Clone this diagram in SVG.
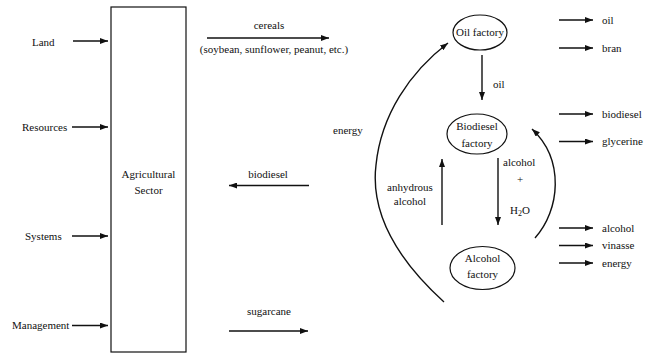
<svg xmlns="http://www.w3.org/2000/svg" width="658" height="354" viewBox="0 0 658 354">
<defs>
<marker id="ah" markerUnits="userSpaceOnUse" markerWidth="8" markerHeight="6" refX="8" refY="3" orient="auto">
<path d="M0,0 L8,3 L0,6 z" fill="#111"/>
</marker>
<style>
text{font-family:'Liberation Serif','Times New Roman','DejaVu Serif',serif;font-size:11px;fill:#111}
.m{text-anchor:middle}
.ar{stroke:#111;stroke-width:1.4;fill:none;marker-end:url(#ah)}
.nd{stroke:#111;stroke-width:1.2;fill:#fff}
</style>
</defs>
<rect width="658" height="354" fill="#fff"/>
<g font-family="Liberation Serif, Times New Roman, serif">
<g id="agricultural-sector">
<rect class="nd" x="111" y="7" width="75" height="345"/>
<text class="m" x="148.5" y="178">Agricultural</text>
<text class="m" x="148.5" y="194">Sector</text>
</g>
<g id="oil-factory">
<ellipse class="nd" cx="480" cy="32.5" rx="27" ry="17.5"/>
<text class="m" x="480" y="35.5">Oil factory</text>
</g>
<g id="biodiesel-factory">
<ellipse class="nd" cx="477" cy="134" rx="30" ry="20"/>
<text class="m" x="477" y="130">Biodiesel</text>
<text class="m" x="477" y="147">factory</text>
</g>
<g id="alcohol-factory">
<ellipse class="nd" cx="482.5" cy="268" rx="32.5" ry="21.5"/>
<text class="m" x="482.5" y="262">Alcohol</text>
<text class="m" x="482.5" y="278">factory</text>
</g>
<g id="connectors">
<line class="ar" x1="73" y1="41" x2="108" y2="41"/>
<line class="ar" x1="72" y1="127" x2="108" y2="127"/>
<line class="ar" x1="72" y1="236" x2="108" y2="236"/>
<line class="ar" x1="72" y1="325.5" x2="108" y2="325.5"/>
<line class="ar" x1="207" y1="38" x2="329" y2="38"/>
<line class="ar" x1="309" y1="185.5" x2="229" y2="185.5"/>
<line class="ar" x1="229" y1="331" x2="308" y2="331"/>
<line class="ar" x1="482" y1="55" x2="482" y2="100"/>
<line class="ar" x1="498" y1="158" x2="498" y2="225"/>
<line class="ar" x1="442" y1="225" x2="442" y2="159"/>
<path class="ar" d="M444,302 C400,262 370,215 376,165 C381,115 410,72 448,43"/>
<path class="ar" d="M535,238 C560,210 565,160 532,129"/>
<line class="ar" x1="559" y1="20" x2="593" y2="20"/>
<line class="ar" x1="559" y1="48" x2="593" y2="48"/>
<line class="ar" x1="559" y1="114" x2="593" y2="114"/>
<line class="ar" x1="559" y1="141.5" x2="593" y2="141.5"/>
<line class="ar" x1="559" y1="228" x2="593" y2="228"/>
<line class="ar" x1="559" y1="245.5" x2="593" y2="245.5"/>
<line class="ar" x1="559" y1="263" x2="593" y2="263"/>
</g>
<g id="labels">
<text x="32" y="46">Land</text>
<text x="22" y="131">Resources</text>
<text x="25" y="240">Systems</text>
<text x="12" y="329">Management</text>
<text class="m" x="269" y="29">cereals</text>
<text class="m" x="274" y="53" font-size="12">(soybean, sunflower, peanut, etc.)</text>
<text class="m" x="268" y="178">biodiesel</text>
<text class="m" x="269" y="315">sugarcane</text>
<text x="333" y="134">energy</text>
<text x="493" y="88">oil</text>
<text x="503" y="166">alcohol</text>
<text class="m" x="520" y="183">+</text>
<text class="m" x="520" y="214">H<tspan font-size="8" dy="2">2</tspan><tspan dy="-2">O</tspan></text>
<text class="m" x="410" y="191">anhydrous</text>
<text class="m" x="410" y="205">alcohol</text>
<text x="602" y="23.5">oil</text>
<text x="602" y="51.5">bran</text>
<text x="602" y="117.5">biodiesel</text>
<text x="602" y="145">glycerine</text>
<text x="602" y="231.5">alcohol</text>
<text x="602" y="249">vinasse</text>
<text x="602" y="266.5">energy</text>
</g>
</g>
</svg>
